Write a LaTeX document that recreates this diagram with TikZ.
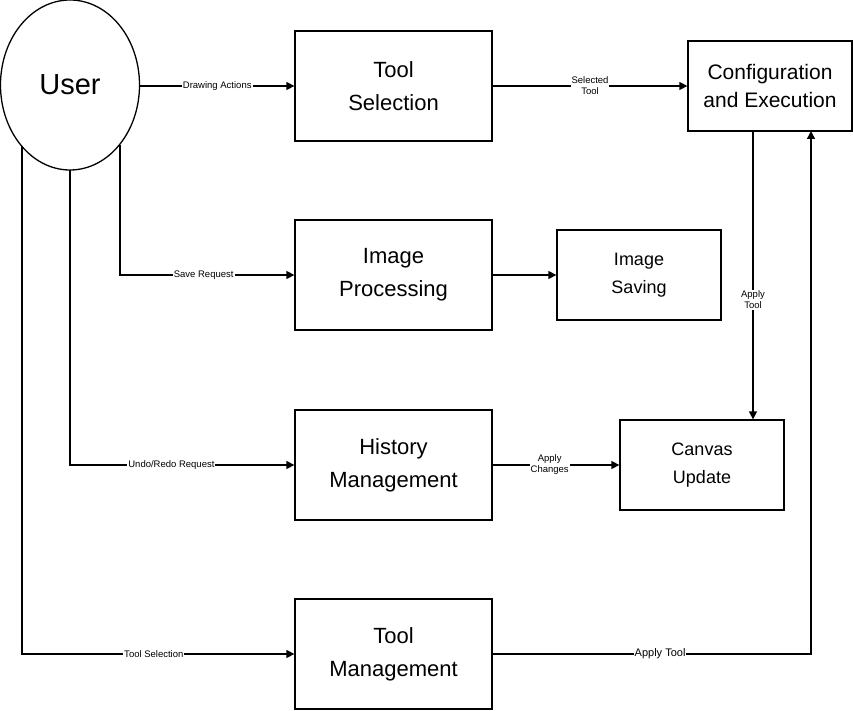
\documentclass[tikz,border=0pt]{standalone}
\usepackage{fontspec}
\setmainfont{Liberation Sans}
\usetikzlibrary{arrows.meta,positioning,shapes.geometric}
\begin{document}
\begin{tikzpicture}[x=1pt,y=-1pt,
  box/.style={draw=black,line width=1.3pt,rectangle,inner sep=0pt,align=center},
  bigbox/.style={box,minimum width=197pt,minimum height=110pt,font=\fontsize{22}{33}\selectfont},
  smallbox/.style={box,minimum width=164pt,minimum height=90pt,font=\fontsize{18}{28}\selectfont},
  conn/.style={line width=1.4pt,-{Triangle[length=8pt,width=8pt]}},
  lbl/.style={fill=white,inner sep=1pt,font=\fontsize{9.5}{11}\selectfont,align=center},
  lbltwo/.style={lbl,font=\fontsize{9.5}{11}\selectfont}]
\useasboundingbox (0,0) rectangle (853,711);
% nodes
\node[draw=black,line width=1.3pt,ellipse,minimum width=139pt,minimum height=170pt,inner sep=0pt,font=\fontsize{29}{30}\selectfont] (user) at (70,85) {User};
\node[bigbox] (toolsel) at (393.5,86) {Tool\\Selection};
\node[smallbox,font=\fontsize{21}{28}\selectfont] (config) at (770,86) {Configuration\\and Execution};
\node[bigbox] (imgproc) at (393.5,275) {Image\\Processing};
\node[smallbox] (imgsave) at (639,275) {Image\\Saving};
\node[bigbox] (hist) at (393.5,465) {History\\Management};
\node[smallbox] (canvas) at (702,465) {Canvas\\Update};
\node[bigbox] (toolmgmt) at (393.5,654) {Tool\\Management};
% helper coordinates (on the lower outline of the User ellipse)
\coordinate (u1) at (120,145);
\coordinate (u2) at (70,170);
\coordinate (u3) at (22,146);
\coordinate (c1) at (753,131);
\coordinate (c2) at (811,131);
% connectors
\draw[conn] (user.east |- toolsel.west) -- node[lbl]{Drawing Actions} (toolsel.west);
\draw[conn] (toolsel.east) -- node[lbltwo]{Selected\\Tool} (config.west);
\draw[conn] (u1) |- node[lbl,pos=0.74]{Save Request} (imgproc.west);
\draw[conn] (imgproc.east) -- (imgsave.west);
\draw[conn] (u2) |- node[lbl,pos=0.726]{Undo/Redo Request} (hist.west);
\draw[conn] (hist.east) -- node[lbltwo,pos=0.45]{Apply\\Changes} (canvas.west);
\draw[conn] (c1) -- node[lbltwo,pos=0.585]{Apply\\Tool} (c1 |- canvas.north);
\draw[conn] (u3) |- node[lbl,pos=0.742]{Tool Selection} (toolmgmt.west);
\draw[conn] (toolmgmt.east) -| node[lbl,pos=0.263,font=\fontsize{11}{12}\selectfont]{Apply Tool} (c2);
\end{tikzpicture}
\end{document}
